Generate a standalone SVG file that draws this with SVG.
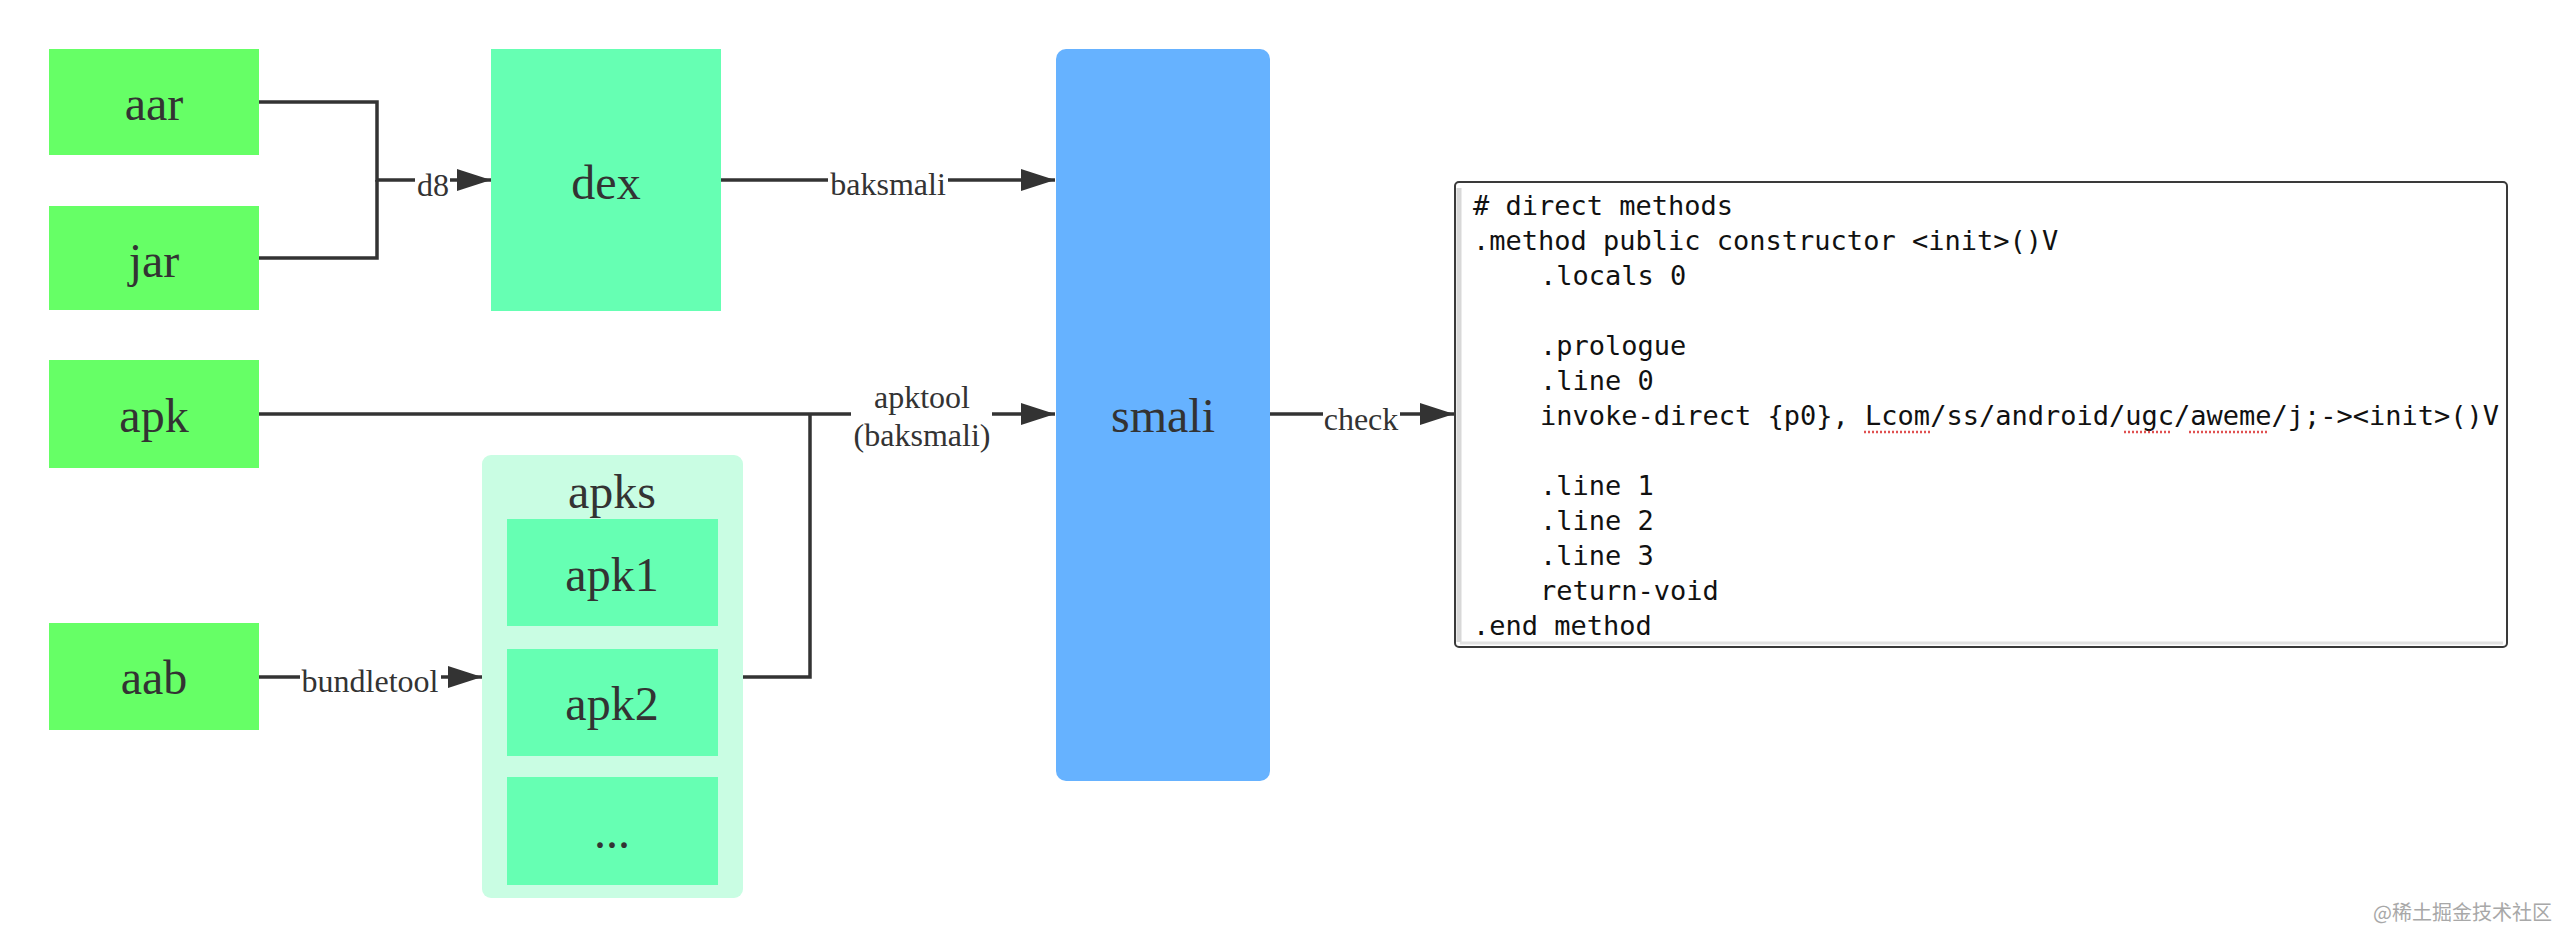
<svg xmlns="http://www.w3.org/2000/svg" width="2558" height="950" viewBox="0 0 2558 950">
<style>
.bg{fill:#ffffff}
.g1{fill:#66FF66}
.g2{fill:#66FFB3}
.cont{fill:#C9FDE3}
.blue{fill:#66B2FF}
.lbl{font-family:"Liberation Serif","Times New Roman",serif;font-size:48px;fill:#333333;text-anchor:middle}
.elbl{font-family:"Liberation Serif","Times New Roman",serif;font-size:32px;fill:#333333;text-anchor:middle}
.edge{fill:none;stroke:#333333;stroke-width:3.5}
.code{font-family:"DejaVu Sans Mono","Liberation Mono",monospace;font-size:27px;fill:#111111;white-space:pre}
.squig{fill:none;stroke:#e05050;stroke-width:2.5;stroke-dasharray:2 2}
</style>
<defs>
<marker id="arr" markerUnits="userSpaceOnUse" markerWidth="36" markerHeight="24" refX="34" refY="11" orient="auto">
<path d="M0,0 L34,11 L0,22 z" fill="#333333"/>
</marker>
</defs>
<rect class="bg" x="0" y="0" width="2558" height="950"/>

<g id="aar"><rect class="g1" x="49" y="49" width="210" height="106"/><text class="lbl" x="154" y="120">aar</text></g>
<g id="jar"><rect class="g1" x="49" y="206" width="210" height="104"/><text class="lbl" x="154" y="277">jar</text></g>
<g id="apk"><rect class="g1" x="49" y="360" width="210" height="108"/><text class="lbl" x="154" y="432">apk</text></g>
<g id="aab"><rect class="g1" x="49" y="623" width="210" height="107"/><text class="lbl" x="154" y="694">aab</text></g>
<g id="dex"><rect class="g2" x="491" y="49" width="230" height="262"/><text class="lbl" x="606" y="199">dex</text></g>
<g id="apks">
<rect class="cont" x="482" y="455" width="261" height="443" rx="9"/>
<text class="lbl" x="612" y="508">apks</text>
</g>
<g id="apk1"><rect class="g2" x="507" y="519" width="211" height="107"/><text class="lbl" x="612" y="591">apk1</text></g>
<g id="apk2"><rect class="g2" x="507" y="649" width="211" height="107"/><text class="lbl" x="612" y="720">apk2</text></g>
<g id="apkmore"><rect class="g2" x="507" y="777" width="211" height="108"/><text class="lbl" x="612" y="848">...</text></g>
<g id="smali"><rect class="blue" x="1056" y="49" width="214" height="732" rx="10"/><text class="lbl" x="1163" y="432">smali</text></g>

<g id="code">
<rect x="1455" y="182" width="1052" height="465" rx="4" fill="#ffffff" stroke="#3a3a3a" stroke-width="2"/>
<line x1="1459" y1="188" x2="1459" y2="642" stroke="#d8d8d8" stroke-width="5"/>
<line x1="1460" y1="643" x2="2503" y2="643" stroke="#e2e2e2" stroke-width="3"/>
<text class="code" x="1473" y="215"># direct methods</text>
<text class="code" x="1473" y="250">.method public constructor &lt;init&gt;()V</text>
<text class="code" x="1540" y="285">.locals 0</text>
<text class="code" x="1540" y="355">.prologue</text>
<text class="code" x="1540" y="390">.line 0</text>
<text class="code" x="1540" y="425">invoke-direct {p0}, Lcom/ss/android/ugc/aweme/j;-&gt;&lt;init&gt;()V</text>
<path class="squig" d="M1864,432 H1930 M2124,432 H2172 M2189,432 H2269"/>
<text class="code" x="1540" y="495">.line 1</text>
<text class="code" x="1540" y="530">.line 2</text>
<text class="code" x="1540" y="565">.line 3</text>
<text class="code" x="1540" y="600">return-void</text>
<text class="code" x="1473" y="635">.end method</text>
</g>

<g id="connectors">
<path class="edge" d="M259,102 H377 V180 H491" marker-end="url(#arr)"/>
<path class="edge" d="M259,258 H377 V180"/>
<path class="edge" d="M721,180 H1055" marker-end="url(#arr)"/>
<path class="edge" d="M259,414 H1055" marker-end="url(#arr)"/>
<path class="edge" d="M743,677 H810 V414"/>
<path class="edge" d="M259,677 H482" marker-end="url(#arr)"/>
<path class="edge" d="M1270,414 H1454" marker-end="url(#arr)"/>
<rect x="415" y="168" width="35" height="32" fill="#ffffff"/>
<text class="elbl" x="433" y="196">d8</text>
<rect x="828" y="166" width="120" height="34" fill="#ffffff"/>
<text class="elbl" x="888" y="195">baksmali</text>
<rect x="851" y="378" width="141" height="76" fill="#ffffff"/>
<text class="elbl" x="922" y="408">apktool</text>
<text class="elbl" x="922" y="446">(baksmali)</text>
<rect x="300" y="662" width="141" height="34" fill="#ffffff"/>
<text class="elbl" x="370" y="692">bundletool</text>
<rect x="1323" y="400" width="77" height="34" fill="#ffffff"/>
<text class="elbl" x="1361" y="430">check</text>
</g>

<text x="2373" y="920" font-family="'Noto Sans CJK SC','Noto Sans',sans-serif" font-size="20" fill="#a8a8a8">@稀土掘金技术社区</text>
</svg>
